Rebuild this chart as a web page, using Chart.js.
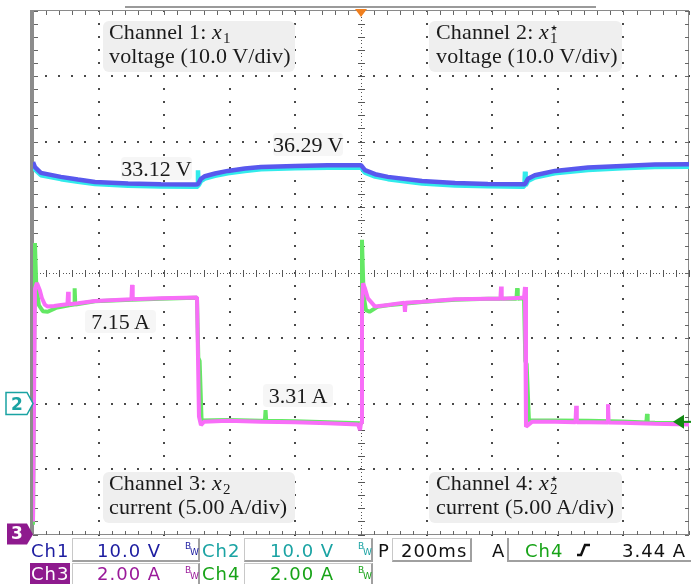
<!DOCTYPE html>
<html>
<head>
<meta charset="utf-8">
<title>Scope capture</title>
<script src="https://cdn.jsdelivr.net/npm/chart.js@4.4.0/dist/chart.umd.min.js"></script>
<style>
  body { margin: 0; background: #fff; }
  #wrap { position: relative; width: 691px; height: 584px; overflow: hidden; }
  #scope { position: absolute; left: 0; top: 0; }
  .note { position: absolute; background: #efefef; border-radius: 6px; }
  .tex { position: absolute; font-family: 'Liberation Serif', serif; font-size: 22px; line-height: 24px; color: #1a1a1a; white-space: nowrap; letter-spacing: 0.15px; }
  .tex i { font-style: italic; }
  .st { position: relative; display: inline-block; width: 10px; height: 1px; }
  .st .dn { position: absolute; left: 1px; top: -7px; font-size: 15px; line-height: 15px; }
  .st .up { position: absolute; left: 0px; top: -18px; font-size: 16px; line-height: 16px; font-family: 'DejaVu Sans'; }
  .val { position: absolute; background: #f6f6f6; border-radius: 4px; font-family: 'Liberation Serif', serif; font-size: 22px; line-height: 23px; height: 23px; text-align: center; color: #1a1a1a; white-space: nowrap; }
  .sb { position: absolute; font-family: 'DejaVu Sans', sans-serif; font-size: 18px; line-height: 23px; letter-spacing: 1px; white-space: nowrap; }
  .box { position: absolute; border: 1px solid #c8c8c8; border-right: 2px solid #a0a0a0; border-bottom: 2px solid #a0a0a0; box-sizing: border-box; }
  .bw { position: absolute; font-family: 'DejaVu Sans', sans-serif; font-size: 9px; line-height: 9px; }
  .mk { position: absolute; font-family: 'DejaVu Sans', sans-serif; font-weight: bold; font-size: 17px; line-height: 22px; text-align: center; }
</style>
</head>
<body>
<div id="wrap">
  <canvas id="scope" width="691" height="584"></canvas>

  <div class="note" style="left:103px;top:21px;width:192px;height:51px"></div>
  <div class="tex" style="left:109px;top:19.6px">Channel 1: <i>x</i><span class="st"><span class="dn">1</span></span><br>voltage (10.0 V/div)</div>
  <div class="note" style="left:429px;top:21px;width:193px;height:51px"></div>
  <div class="tex" style="left:436px;top:19.6px">Channel 2: <i>x</i><span class="st"><span class="up">⋆</span><span class="dn">1</span></span><br>voltage (10.0 V/div)</div>
  <div class="note" style="left:103px;top:472px;width:192px;height:51px"></div>
  <div class="tex" style="left:109px;top:470.6px">Channel 3: <i>x</i><span class="st"><span class="dn">2</span></span><br>current (5.00 A/div)</div>
  <div class="note" style="left:429px;top:472px;width:193px;height:51px"></div>
  <div class="tex" style="left:436px;top:470.6px">Channel 4: <i>x</i><span class="st"><span class="up">⋆</span><span class="dn">2</span></span><br>current (5.00 A/div)</div>

  <div class="val" style="left:273px;top:133px;width:70px">36.29 V</div>
  <div class="val" style="left:121px;top:157px;width:71px">33.12 V</div>
  <div class="val" style="left:85px;top:310px;width:71px">7.15 A</div>
  <div class="val" style="left:263px;top:384px;width:70px">3.31 A</div>

  <div class="mk" style="left:6px;top:393px;width:22px;color:#1aa3a3">2</div>
  <div class="mk" style="left:7px;top:522px;width:20px;color:#fff">3</div>

  <!-- status bar, row 1 -->
  <div class="sb" style="left:31px;top:539px;color:#1c1ca0">Ch1</div>
  <div class="box" style="left:72px;top:538px;width:128px;height:24px"></div>
  <div class="sb" style="left:97px;top:539px;color:#1c1ca0">10.0 V</div>
  <div class="bw" style="left:185px;top:542px;color:#1c1ca0">B</div>
  <div class="bw" style="left:190px;top:548px;color:#1c1ca0">W</div>
  <div class="sb" style="left:202px;top:539px;color:#1aa3a3">Ch2</div>
  <div class="box" style="left:244px;top:538px;width:129px;height:24px"></div>
  <div class="sb" style="left:270px;top:539px;color:#1aa3a3">10.0 V</div>
  <div class="bw" style="left:358px;top:542px;color:#1aa3a3">B</div>
  <div class="bw" style="left:363px;top:548px;color:#1aa3a3">W</div>
  <div class="sb" style="left:378px;top:539px;color:#111">P</div>
  <div class="box" style="left:392px;top:538px;width:80px;height:24px"></div>
  <div class="sb" style="left:401px;top:539px;color:#111">200ms</div>
  <div class="sb" style="left:492px;top:539px;color:#111">A</div>
  <div style="position:absolute;left:507px;top:538px;width:184px;height:24px;border-left:2px solid #a0a0a0;border-bottom:2px solid #a0a0a0;box-sizing:border-box"></div>
  <div class="sb" style="left:525px;top:539px;color:#17a317">Ch4</div>
  <div class="sb" style="left:622px;top:539px;color:#111">3.44 A</div>

  <!-- status bar, row 2 -->
  <div style="position:absolute;left:30px;top:563px;width:40px;height:21px;background:#8e1a8e"></div>
  <div class="sb" style="left:31px;top:562px;color:#fff">Ch3</div>
  <div class="box" style="left:72px;top:563px;width:128px;height:24px"></div>
  <div class="sb" style="left:97px;top:562px;color:#9a1a9a">2.00 A</div>
  <div class="bw" style="left:185px;top:566px;color:#9a1a9a">B</div>
  <div class="bw" style="left:190px;top:572px;color:#9a1a9a">W</div>
  <div class="sb" style="left:202px;top:562px;color:#17a317">Ch4</div>
  <div class="box" style="left:244px;top:563px;width:129px;height:24px"></div>
  <div class="sb" style="left:270px;top:562px;color:#17a317">2.00 A</div>
  <div class="bw" style="left:358px;top:566px;color:#17a317">B</div>
  <div class="bw" style="left:363px;top:572px;color:#17a317">W</div>
</div>

<script>
// time base: 200 ms/div, 10 div, trigger in the middle
var xMin = -1000, xMax = 1000;
// Ch1/Ch2: 10 V/div, ground 2 div below centre
var voltMin = -20, voltMax = 60;
// Ch3/Ch4: 2 A/div, ground on the bottom line
var ampMin = 0, ampMax = 16;

// Ch1 (x1) voltage, V
var ch1Time = [-1000, -994, -976, -915, -863, -811, -710, -610, -506, -497, -488, -476, -445, -406, -354, -305, -201, -101, -9, 0, 12, 43, 82, 186, 287, 387, 491, 500, 509, 530, 591, 692, 796, 896, 1000];
var ch1Volt = [36.84, 36.08, 35.21, 34.60, 34.20, 33.83, 33.59, 33.48, 33.44, 33.48, 34.30, 34.70, 35.11, 35.51, 35.88, 36.12, 36.27, 36.38, 36.38, 36.38, 35.62, 35.01, 34.60, 33.98, 33.68, 33.53, 33.48, 33.48, 34.30, 34.85, 35.51, 36.03, 36.27, 36.49, 36.53];

// Ch2 (x1*) voltage, V
var ch2Time = [-1000, -994, -976, -915, -863, -811, -710, -610, -506, -499, -497, -495, -488, -476, -445, -406, -354, -305, -201, -101, -9, 0, 12, 43, 82, 186, 287, 387, 491, 498, 500, 502, 509, 530, 591, 692, 796, 896, 1000];
var ch2Volt = [36.5, 35.7, 34.85, 34.25, 33.85, 33.5, 33.25, 33.12, 33.08, 33.1, 35.6, 33.3, 33.95, 34.35, 34.75, 35.15, 35.5, 35.75, 35.9, 36.0, 36.0, 36.0, 35.25, 34.65, 34.25, 33.6, 33.3, 33.15, 33.1, 33.1, 35.4, 33.3, 33.95, 34.5, 35.15, 35.65, 35.9, 36.1, 36.15];

// Ch3 (x2) current, A
var ch3Time = [-1000, -994, -988, -979, -973, -964, -955, -936, -915, -895, -893, -891, -863, -811, -700, -698, -696, -610, -506, -500, -494, -488, -479, -406, -305, -201, -101, -9, -3, 0, 3, 6, 12, 21, 43, 82, 132, 134, 136, 186, 287, 387, 425, 427, 429, 491, 497, 500, 503, 509, 521, 591, 654, 656, 658, 692, 751, 753, 755, 796, 896, 1000];
var ch3Amp = [0.4, 7.5, 7.68, 7.45, 7.22, 7.02, 6.96, 6.98, 7.01, 7.03, 7.41, 7.03, 7.06, 7.13, 7.18, 7.62, 7.18, 7.21, 7.24, 7.24, 3.6, 3.34, 3.44, 3.47, 3.44, 3.43, 3.40, 3.36, 3.19, 3.4, 7.0, 7.67, 7.52, 7.21, 6.96, 7.01, 7.08, 6.80, 7.08, 7.11, 7.18, 7.20, 7.20, 7.57, 7.20, 7.23, 7.23, 7.56, 3.29, 3.34, 3.44, 3.44, 3.43, 3.93, 3.43, 3.43, 3.42, 3.98, 3.42, 3.41, 3.38, 3.36];

// Ch4 (x2*) current, A
var ch4Time = [-1000, -994, -990, -982, -970, -955, -930, -890, -875, -873, -871, -811, -700, -610, -506, -500, -496, -492, -486, -406, -305, -293, -291, -289, -201, -101, -3, 0, 3, 8, 15, 26, 50, 82, 186, 287, 387, 474, 476, 478, 497, 501, 505, 512, 591, 692, 796, 870, 872, 874, 896, 1000];
var ch4Amp = [0.3, 8.9, 7.6, 7.0, 6.82, 6.80, 6.92, 7.0, 7.02, 7.52, 7.02, 7.12, 7.17, 7.20, 7.23, 7.23, 5.4, 5.3, 3.48, 3.50, 3.47, 3.47, 3.80, 3.47, 3.46, 3.43, 3.40, 3.40, 9.0, 7.3, 6.85, 6.80, 6.95, 7.0, 7.1, 7.17, 7.2, 7.2, 7.52, 7.2, 7.22, 5.3, 5.2, 3.48, 3.48, 3.47, 3.45, 3.42, 3.68, 3.42, 3.41, 3.40];

function pts(t, v) {
  return t.map(function(x, i) { return { x: x, y: v[i] }; });
}

// oscilloscope graticule: dotted divisions, ticked centre lines and border
var graticule = {
  id: 'graticule',
  beforeDatasetsDraw: function(chart) {
    var ctx = chart.ctx, a = chart.chartArea;
    var sx = chart.scales.x, sy = chart.scales.yI;
    var X = function(v) { return Math.round(sx.getPixelForValue(v)); };
    var Y = function(v) { return Math.round(sy.getPixelForValue(v)); };
    var i, j;
    ctx.save();

    ctx.fillStyle = '#4a4a4a';
    for (i = 1; i < 10; i++) {
      if (i === 5) continue;
      for (j = 0; j <= 40; j++) ctx.fillRect(X(xMin + i * 200) - 1, Y(j * 0.4) - 1, 2, 2);
    }
    for (i = 1; i < 8; i++) {
      if (i === 4) continue;
      for (j = 0; j <= 50; j++) ctx.fillRect(X(xMin + j * 40) - 1, Y(i * 2) - 1, 2, 2);
    }

    // centre lines
    var cx = X(0), cy = Y(8);
    ctx.fillStyle = '#555';
    for (j = 0; j <= 200; j++) ctx.fillRect(X(xMin + j * 10), cy, 1, 1);
    for (j = 0; j <= 160; j++) ctx.fillRect(cx, Y(j * 0.1), 1, 1);
    for (j = 0; j <= 50; j++) ctx.fillRect(X(xMin + j * 40), cy - 3, 1, 7);
    for (j = 0; j <= 40; j++) ctx.fillRect(cx - 3, Y(j * 0.4), 7, 1);

    // border + ticks
    ctx.strokeStyle = '#8a8a8a';
    ctx.lineWidth = 1;
    ctx.strokeRect(Math.round(a.left) + 0.5, Math.round(a.top) - 0.5, Math.round(a.width) - 1, Math.round(a.height));
    ctx.fillStyle = '#666';
    for (j = 0; j <= 50; j++) {
      ctx.fillRect(X(xMin + j * 40), Math.round(a.top), 1, 4);
      ctx.fillRect(X(xMin + j * 40), Math.round(a.bottom) - 4, 1, 4);
    }
    for (j = 0; j <= 40; j++) {
      ctx.fillRect(Math.round(a.left), Y(j * 0.4), 5, 1);
      ctx.fillRect(Math.round(a.right) - 4, Y(j * 0.4), 4, 1);
    }
    ctx.fillStyle = '#8c8c8c';
    ctx.fillRect(30, Math.round(a.top) - 1, 4, Math.round(a.height) + 1);
    ctx.restore();
  },
  afterDraw: function(chart) {
    var ctx = chart.ctx;
    var sx = chart.scales.x, sy = chart.scales.yI;
    ctx.save();
    // record window bar
    ctx.fillStyle = '#9a9a9a';
    ctx.fillRect(125, 6, 471, 2);
    // trigger position
    var tx = sx.getPixelForValue(0);
    ctx.fillStyle = '#f07f1e';
    ctx.beginPath();
    ctx.moveTo(tx - 6, 9); ctx.lineTo(tx + 6, 9); ctx.lineTo(tx, 17); ctx.closePath(); ctx.fill();
    // trigger level 3.44 A on Ch4
    var ty = sy.getPixelForValue(3.44);
    ctx.fillStyle = '#128a12';
    ctx.beginPath();
    ctx.moveTo(673, ty); ctx.lineTo(684, ty - 7); ctx.lineTo(684, ty + 7); ctx.closePath(); ctx.fill();
    ctx.fillRect(684, ty - 1, 7, 2);
    // Ch2 ground marker
    var gy = chart.scales.yV.getPixelForValue(0);
    ctx.fillStyle = '#fff';
    ctx.strokeStyle = '#1aa3a3';
    ctx.lineWidth = 1.5;
    ctx.beginPath();
    ctx.moveTo(6, gy - 11); ctx.lineTo(27, gy - 11); ctx.lineTo(33, gy); ctx.lineTo(27, gy + 11); ctx.lineTo(6, gy + 11); ctx.closePath();
    ctx.fill(); ctx.stroke();
    // Ch3 ground marker
    var zy = sy.getPixelForValue(0);
    ctx.fillStyle = '#8e1a8e';
    ctx.beginPath();
    ctx.moveTo(7, zy - 11); ctx.lineTo(27, zy - 11); ctx.lineTo(33, zy); ctx.lineTo(27, zy + 10); ctx.lineTo(7, zy + 10); ctx.closePath();
    ctx.fill();
    // trigger slope glyph
    ctx.strokeStyle = '#111';
    ctx.lineWidth = 2.5;
    ctx.beginPath();
    ctx.moveTo(577, 555); ctx.lineTo(581, 555); ctx.lineTo(585, 545); ctx.lineTo(590, 545);
    ctx.stroke();
    ctx.restore();
  }
};

var ctx = document.getElementById('scope').getContext('2d');
var chart = new Chart(ctx, {
  type: 'line',
  data: {
    datasets: [{
      label: 'Ch1',
      data: pts(ch1Time, ch1Volt),
      yAxisID: 'yV',
      borderColor: 'rgb(88, 88, 238)',
      borderWidth: 4.5
    }, {
      label: 'Ch2',
      data: pts(ch2Time, ch2Volt),
      yAxisID: 'yV',
      borderColor: 'rgb(50, 235, 235)',
      borderWidth: 4.5
    }, {
      label: 'Ch3',
      data: pts(ch3Time, ch3Amp),
      yAxisID: 'yI',
      borderColor: 'rgb(248, 110, 248)',
      borderWidth: 4
    }, {
      label: 'Ch4',
      data: pts(ch4Time, ch4Amp),
      yAxisID: 'yI',
      borderColor: 'rgb(100, 232, 100)',
      borderWidth: 4
    }]
  },
  options: {
    responsive: false,
    animation: false,
    layout: { padding: { left: 33, right: 2, top: 10.5, bottom: 49.5 } },
    elements: {
      point: { radius: 0 },
      line: { tension: 0, borderJoinStyle: 'bevel', borderCapStyle: 'butt' }
    },
    scales: {
      x: { type: 'linear', min: xMin, max: xMax, display: false },
      yV: { type: 'linear', min: voltMin, max: voltMax, display: false },
      yI: { type: 'linear', min: ampMin, max: ampMax, display: false }
    },
    plugins: {
      legend: { display: false },
      tooltip: { enabled: false }
    }
  },
  plugins: [graticule]
});
</script>
</body>
</html>
